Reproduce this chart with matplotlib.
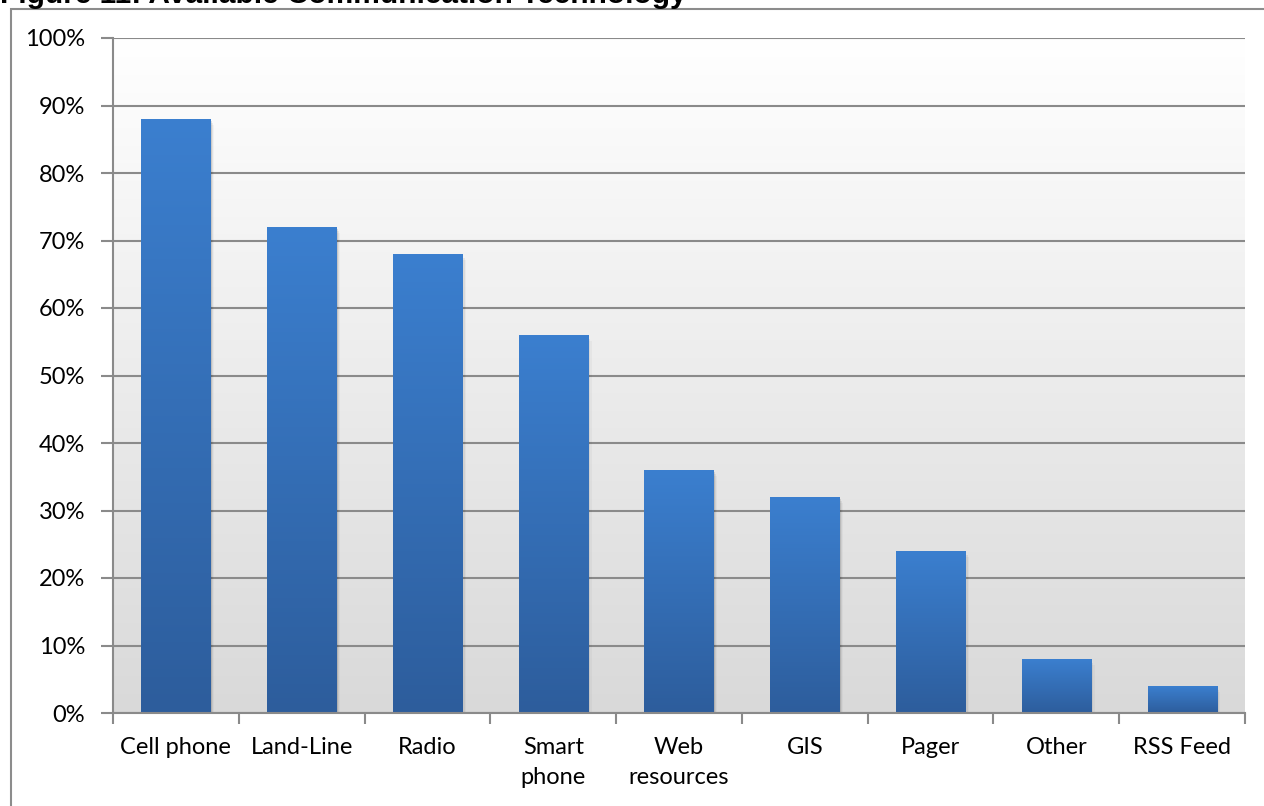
import numpy as np
import matplotlib.pyplot as plt
from matplotlib.colors import LinearSegmentedColormap
from matplotlib.patches import Rectangle

categories = ['Cell phone', 'Land-Line', 'Radio', 'Smart\nphone', 'Web\nresources',
              'GIS', 'Pager', 'Other', 'RSS Feed']
values = [88, 72, 68, 56, 36, 32, 24, 8, 4]
yticks = list(range(0, 101, 10))

W, H = 1264, 806
fig = plt.figure(figsize=(W / 100, H / 100), dpi=100)
plt.rcParams['font.family'] = ['Lato', 'DejaVu Sans']

# outer frame, runs off the right and bottom edges
fig.patches.append(Rectangle((11 / W, -0.1), 1.2, 1 - 9 / H + 0.1, transform=fig.transFigure,
                             fill=False, edgecolor='#8c8c8c', linewidth=1.5))

# title is clipped at the top in the source
fig.text(0.0, 1 - 3 / H, 'Figure 11: Available Communication Technology',
         fontsize=21.5, fontweight='bold', family='Liberation Sans', va='baseline', ha='left')

ax = fig.add_axes([113 / W, 1 - 713 / H, (1245 - 113) / W, (713 - 38) / H])
n = len(categories)
x = np.arange(n)

# plot area background gradient (white top -> light grey bottom)
bg = LinearSegmentedColormap.from_list('bg', ['#d9d9d9', '#ffffff'])
grad = np.linspace(0, 1, 256).reshape(-1, 1)
ax.imshow(grad, cmap=bg, aspect='auto', extent=(-0.5, n - 0.5, 0, 100),
          origin='lower', zorder=0)

for y in yticks:
    ax.axhline(y, color='#8a8a8a', linewidth=1.5, zorder=1)

# bars with vertical gradient
barcm = LinearSegmentedColormap.from_list('bar', ['#2d5d9c', '#3b7fcf'])
bars = ax.bar(x, values, width=0.55, color='none', zorder=3)
for b, v in zip(bars, values):
    x0 = b.get_x()
    w = b.get_width()
    # soft shadow
    for k, a in enumerate([0.10, 0.06, 0.03]):
        ax.add_patch(Rectangle((x0 + 0.01 * (k + 1), -0.3 * (k + 1)), w, v,
                               facecolor='black', alpha=a, linewidth=0, zorder=2))
    im = ax.imshow(grad, cmap=barcm, aspect='auto', extent=(x0, x0 + w, 0, v),
                   origin='lower', zorder=3)
    im.set_clip_path(b)

ax.set_xlim(-0.5, n - 0.5)
ax.set_ylim(0, 100)

ax.set_yticks(yticks)
ax.set_yticklabels([f'{y}%' for y in yticks])
ax.set_xticks(np.arange(-0.5, n, 1.0))
ax.set_xticklabels([])
ax.set_xticks(x, minor=True)
ax.set_xticklabels(categories, minor=True, linespacing=1.55)
ax.tick_params(axis='x', which='minor', length=0, pad=17, labelsize=17)
ax.tick_params(axis='x', which='major', length=8, width=1.5, color='#8a8a8a', direction='out')
ax.tick_params(axis='y', length=9, width=1.5, color='#8a8a8a', direction='out',
               labelsize=17, pad=11)

for s in ['top', 'right']:
    ax.spines[s].set_visible(False)
for s in ['left', 'bottom']:
    ax.spines[s].set_color('#8a8a8a')
    ax.spines[s].set_linewidth(1.5)
    ax.spines[s].set_zorder(4)

plt.savefig('out.png', dpi=100)
